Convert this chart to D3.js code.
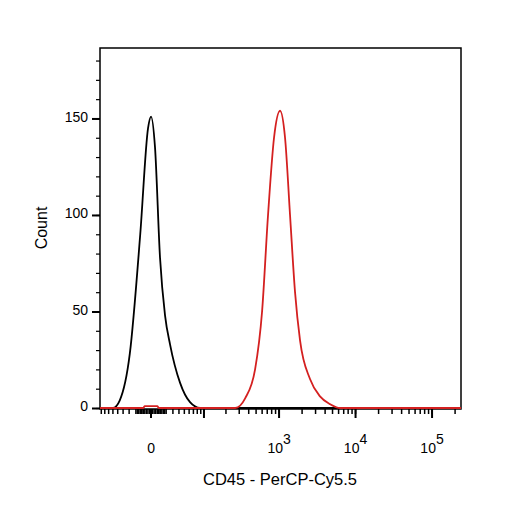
<!DOCTYPE html><html><head><meta charset="utf-8"><script src="https://cdn.jsdelivr.net/npm/d3@7"></script>
<style>body{margin:0;background:#fff}text{font-family:"Liberation Sans",Arial,sans-serif}</style></head><body><svg id="c" width="506" height="506"></svg>
<script>
const blackX=[-2000,-60,-46,-29,-14,-3.8,0,5.1,11.6,18.4,25.6,42,62,88,300000];
const blackY=[0,0,4,28,90,145,151,135,78,48,33,13,3,0,0];
const redX=[-2000,-10,-8,8,10,266,359,485,599,717,859,1030,1197,1391,1617,1880,2538,3430,4638,6260,300000];
const redY=[0,0,1,1,0,0,5,20,50,100,140,154,140,100,60,35,15,6,2,0,0];
const yMajor=[0,50,100,150];
const xMajorLabels=[{v:0,base:"0",exp:""},{v:1000,base:"10",exp:"3"},{v:10000,base:"10",exp:"4"},{v:100000,base:"10",exp:"5"}];
const C=21.2;
const tf=v=>Math.asinh(v/(2*C))/Math.LN10;
const L=100,R=461,T=48,B=409;
const sx=d3.scaleLinear().domain([-0.667,4.052]).range([L,R]);
const X=v=>sx(tf(v));
const y=d3.scaleLinear().domain([0,186.5]).range([B-1,T]);
const svg=d3.select("#c");
svg.append("clipPath").attr("id","cp").append("rect").attr("x",L).attr("y",T).attr("width",R-L).attr("height",B-T+2);
let xt=[];
for(let d=1;d<=5;d++)for(let k=1;k<=9;k++){xt.push(k*Math.pow(10,d));xt.push(-k*Math.pow(10,d));}
for(let k=1;k<=9;k++){xt.push(k*2);xt.push(-k*2);}
xt=xt.filter(v=>X(v)>=L&&X(v)<=R);
const majors=[0,100,1000,10000,100000];
const g=svg.append("g");
g.selectAll(".xt").data(xt).join("line").attr("x1",d=>X(d)).attr("x2",d=>X(d)).attr("y1",B).attr("y2",B+5).attr("stroke","#000").attr("stroke-width",1.5);
g.selectAll(".xm").data(majors).join("line").attr("x1",d=>X(d)).attr("x2",d=>X(d)).attr("y1",B).attr("y2",B+9).attr("stroke","#000").attr("stroke-width",2);
const ay=d3.axisLeft(y).tickValues(d3.range(0,181,10)).tickSize(4).tickFormat("");
svg.append("g").attr("transform",`translate(${L},0)`).call(ay).call(s=>{s.select(".domain").remove();s.selectAll("line").attr("stroke-width",1.2)});
svg.append("g").attr("transform",`translate(${L},0)`).call(d3.axisLeft(y).tickValues(yMajor).tickSize(8).tickPadding(4)).call(s=>{s.select(".domain").remove();s.selectAll("line").attr("stroke-width",2);s.selectAll("text").attr("font-size",14).attr("font-family","Liberation Sans").attr("dy","0.2em")});
svg.append("rect").attr("x",L).attr("y",T).attr("width",R-L).attr("height",B-T).attr("fill","none").attr("stroke","#000").attr("stroke-width",1.5);
const line=d3.line().x((d,i)=>X(d[0])).y(d=>y(d[1])).curve(d3.curveMonotoneX);
const pg=svg.append("g").attr("clip-path","url(#cp)");
pg.append("path").attr("d",line(blackX.map((v,i)=>[v,blackY[i]]))).attr("fill","none").attr("stroke","#000").attr("stroke-width",1.8);
pg.append("path").attr("d",line(redX.map((v,i)=>[v,redY[i]]))).attr("fill","none").attr("stroke","#d42020").attr("stroke-width",1.8);
const lab=svg.append("g");
xMajorLabels.forEach(d=>{const t=lab.append("text").attr("x",X(d.v)).attr("y",453).attr("font-size",14).attr("text-anchor","middle");
 t.append("tspan").text(d.base); if(d.exp)t.append("tspan").attr("dy",-9).attr("font-size",14).text(d.exp);});
svg.append("text").attr("x",280).attr("y",485).attr("text-anchor","middle").attr("font-size",16.5).text("CD45 - PerCP-Cy5.5");
svg.append("text").attr("transform","translate(47,228) rotate(-90)").attr("text-anchor","middle").attr("font-size",16).text("Count");
</script></body></html>
